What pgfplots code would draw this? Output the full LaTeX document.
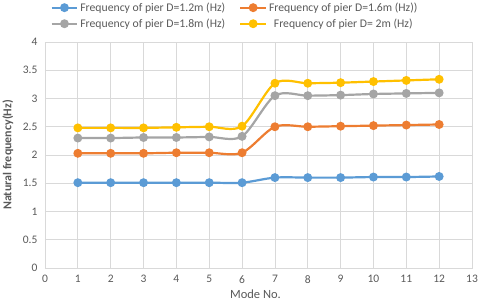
\documentclass[border=0pt]{standalone}
\usepackage{fontspec}
\setmainfont{Carlito}
\usepackage{pgfplots}
\pgfplotsset{compat=1.18}
\definecolor{cblue}{HTML}{5B9BD5}
\definecolor{corange}{HTML}{ED7D31}
\definecolor{cgray}{HTML}{A5A5A5}
\definecolor{cyellow}{HTML}{FFC000}
\definecolor{txt}{HTML}{595959}
\definecolor{gridc}{HTML}{D9D9D9}
\begin{document}
\begin{tikzpicture}
\useasboundingbox (-45pt,-34pt) rectangle (435pt,268pt);
\begin{axis}[
  scale only axis, width=427pt, height=226pt,
  xmin=0, xmax=13, ymin=0, ymax=4,
  xtick={0,1,...,13}, ytick={0,0.5,...,4},
  grid=major, major grid style={gridc, line width=0.8pt},
  axis line style={gridc, line width=0.8pt},
  tick style={draw=none},
  /pgf/number format/assume math mode=true,
  tick label style={font=\fontsize{11.5}{12}\selectfont, text=txt},
  xticklabel style={yshift=-4pt},
  yticklabel style={xshift=-4pt},
  ylabel={\textbf{Natural frequency(Hz)}},
  ylabel style={font=\fontsize{12}{13}\selectfont, text=txt, at={(axis description cs:-0.087,0.5)}, anchor=center},
  xlabel={Mode No.},
  xlabel style={font=\fontsize{12.5}{13}\selectfont, text=txt, at={(axis description cs:0.5,0)}, anchor=center, yshift=-26pt, xshift=-3pt},
  legend columns=2,
  legend style={draw=none, fill=none, font=\fontsize{11.7}{13}\selectfont, text=txt,
    at={(axis description cs:0.445,1.04)}, anchor=south, inner xsep=0pt,
    /tikz/every even column/.append style={column sep=12pt}, row sep=2pt},
  legend image code/.code={\draw[mark repeat=2,mark phase=2,#1] plot coordinates {(0cm,0cm) (0.45cm,0cm) (0.9cm,0cm)};},
  every axis plot/.append style={line width=2.2pt, smooth, mark=*, mark size=3.3pt},
]
\addplot[cblue, mark options={fill=cblue}] coordinates {(1,1.51) (2,1.51) (3,1.51) (4,1.51) (5,1.51) (6,1.51) (7,1.60) (8,1.60) (9,1.60) (10,1.61) (11,1.61) (12,1.62)};
\addlegendentry{Frequency of pier D=1.2m (Hz)}
\addplot[corange, mark options={fill=corange}] coordinates {(1,2.03) (2,2.03) (3,2.03) (4,2.04) (5,2.04) (6,2.04) (7,2.50) (8,2.50) (9,2.51) (10,2.52) (11,2.53) (12,2.54)};
\addlegendentry{Frequency of pier D=1.6m (Hz))}
\addplot[cgray, mark options={fill=cgray}] coordinates {(1,2.30) (2,2.30) (3,2.31) (4,2.31) (5,2.32) (6,2.33) (7,3.05) (8,3.05) (9,3.06) (10,3.08) (11,3.09) (12,3.10)};
\addlegendentry{Frequency of pier D=1.8m (Hz)}
\addplot[cyellow, mark options={fill=cyellow}] coordinates {(1,2.48) (2,2.48) (3,2.48) (4,2.49) (5,2.50) (6,2.51) (7,3.27) (8,3.27) (9,3.28) (10,3.30) (11,3.32) (12,3.34)};
\addlegendentry{Frequency of pier D= 2m (Hz)}
\end{axis}
\end{tikzpicture}
\end{document}
